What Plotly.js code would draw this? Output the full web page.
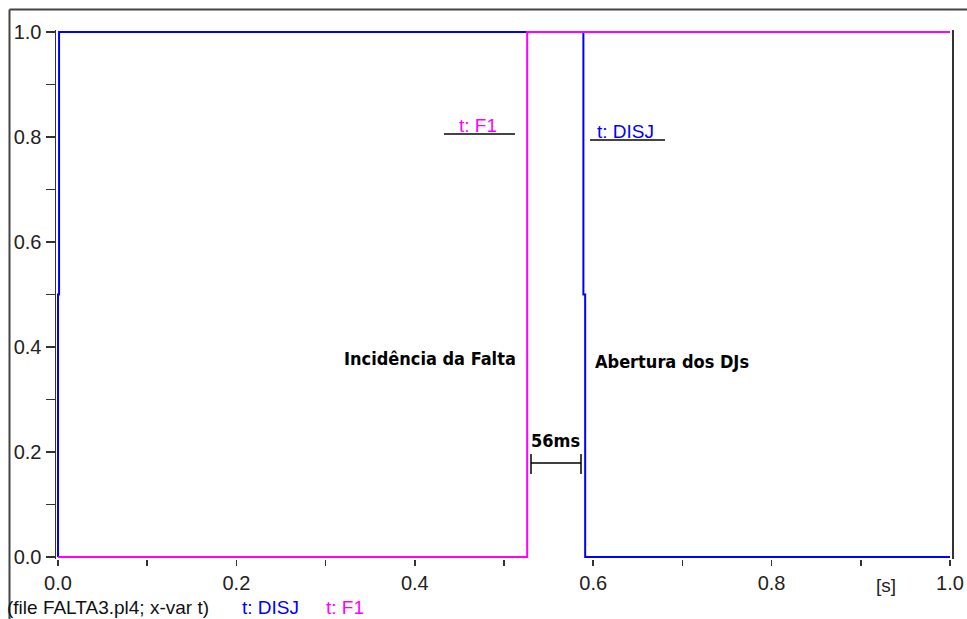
<!DOCTYPE html>
<html>
<head>
<meta charset="utf-8">
<script src="https://cdn.plot.ly/plotly-3.0.1.min.js"></script>
<style>html,body{margin:0;padding:0;background:#fff;}#chart{width:967px;height:619px;}</style>
</head>
<body>
<div id="chart"></div>
<script>
// ---- data ----
const disjTime = [0, 0, 0.0012, 0.0012, 0.589, 0.589, 0.591, 0.591, 1.0];
const disjValue = [0, 0.5, 0.5, 1, 1, 0.5, 0.5, 0, 0];
const f1Time = [0, 0.526, 0.526, 1.0];
const f1Value = [0, 0, 1, 1];
const seriesNames = ["t: DISJ", "t: F1"];
const caption = "(file FALTA3.pl4; x-var t)";
const xUnit = "[s]";
const labelFault = "Incidência da Falta";
const labelOpen = "Abertura dos DJs";
const labelDelta = "56ms";

// ---- layout geometry ----
const W = 967, H = 619;
const M = {l: 56, r: 15, t: 30, b: 60};
const pw = W - M.l - M.r, ph = H - M.t - M.b;
const x0px = 58, x1px = 950, y0px = 557, y1px = 32;
const xa = -(x0px - M.l) / (x1px - x0px), xb = xa + pw / (x1px - x0px);
const ya = -((H - M.b) - y0px) / (y0px - y1px), yb = ya + ph / (y0px - y1px);
const px2x = p => (p - M.l) / pw;           // paper x
const px2y = p => (H - M.b - p) / ph;        // paper y
const dx = p => (p - x0px) / (x1px - x0px);  // data x
const dy = p => (y0px - p) / (y0px - y1px);  // data y

const BLUE = "#0000ff", MAG = "#ff00ff", AX = "#333333";
const FAM = "Liberation Sans, Arial, sans-serif";
const tickFont = {family: FAM, size: 20, color: "#222"};
const boldFont = {family: "DejaVu Sans Condensed, DejaVu Sans, sans-serif", size: 18, color: "#000", weight: 700};

const traces = [
  {x: disjTime, y: disjValue, name: seriesNames[0], mode: "lines", line: {color: BLUE, width: 2}},
  {x: f1Time, y: f1Value, name: seriesNames[1], mode: "lines", line: {color: MAG, width: 2}}
];

const shapes = [
  // outer frame
  {type: "line", xref: "paper", yref: "paper", x0: px2x(9.5), x1: px2x(975), y0: px2y(9.5), y1: px2y(9.5), line: {color: "#444", width: 2}},
  {type: "line", xref: "paper", yref: "paper", x0: px2x(9.5), x1: px2x(9.5), y0: px2y(9.5), y1: px2y(630), line: {color: "#444", width: 2}},
  // label underlines
  {type: "line", x0: dx(444), x1: dx(515), y0: dy(134), y1: dy(134), line: {color: "#444", width: 2}},
  {type: "line", x0: dx(590), x1: dx(665), y0: dy(140), y1: dy(140), line: {color: "#444", width: 2}},
  // dimension line for 56 ms
  {type: "line", x0: dx(531), x1: dx(581), y0: dy(463), y1: dy(463), line: {color: "#000", width: 1.5}},
  {type: "line", x0: dx(531), x1: dx(531), y0: dy(454), y1: dy(474), line: {color: "#000", width: 1.5}},
  {type: "line", x0: dx(581), x1: dx(581), y0: dy(454), y1: dy(474), line: {color: "#000", width: 1.5}}
];

const A = (o) => Object.assign({showarrow: false, xanchor: "center", yanchor: "middle"}, o);
const annotations = [
  A({x: dx(478), y: dy(125), text: seriesNames[1], font: {family: FAM, size: 19, color: MAG}}),
  A({x: dx(625), y: dy(131), text: seriesNames[0], font: {family: FAM, size: 19, color: BLUE}}),
  A({x: dx(518), y: dy(358), text: labelFault, xanchor: "right", font: boldFont}),
  A({x: dx(593), y: dy(361), text: labelOpen, xanchor: "left", font: boldFont}),
  A({x: dx(555), y: dy(440), text: labelDelta, font: boldFont}),
  A({xref: "paper", yref: "paper", x: px2x(886), y: px2y(585), text: xUnit, font: {family: FAM, size: 19, color: "#222"}}),
  A({xref: "paper", yref: "paper", x: px2x(5), y: px2y(607), xanchor: "left", text: caption, font: {family: FAM, size: 19, color: "#111"}}),
  A({xref: "paper", yref: "paper", x: px2x(240), y: px2y(607), xanchor: "left", text: seriesNames[0], font: {family: FAM, size: 19, color: BLUE}}),
  A({xref: "paper", yref: "paper", x: px2x(324), y: px2y(607), xanchor: "left", text: seriesNames[1], font: {family: FAM, size: 19, color: MAG}})
];

const layout = {
  width: W, height: H,
  margin: M,
  paper_bgcolor: "#fff", plot_bgcolor: "#fff",
  showlegend: false,
  xaxis: {
    range: [xa, xb], showgrid: false, zeroline: false, showline: false,
    tick0: 0, dtick: 0.2, tickformat: ".1f", ticks: "outside", ticklen: 6, tickwidth: 1.5, tickcolor: AX,
    tickfont: tickFont,
    minor: {tick0: 0, dtick: 0.1, ticks: "outside", ticklen: 6, tickwidth: 1.5, tickcolor: AX}
  },
  yaxis: {
    range: [ya, yb], showgrid: false, zeroline: false, showline: true, mirror: true, linecolor: AX, linewidth: 1.5,
    tick0: 0, dtick: 0.2, tickformat: ".1f", ticks: "outside", ticklen: 9, tickwidth: 1.5, tickcolor: AX,
    tickfont: tickFont,
    minor: {tick0: 0, dtick: 0.1, ticks: "outside", ticklen: 9, tickwidth: 1.5, tickcolor: AX}
  },
  shapes: shapes,
  annotations: annotations
};

Plotly.newPlot("chart", traces, layout, {displayModeBar: false, staticPlot: true});
</script>
</body>
</html>
